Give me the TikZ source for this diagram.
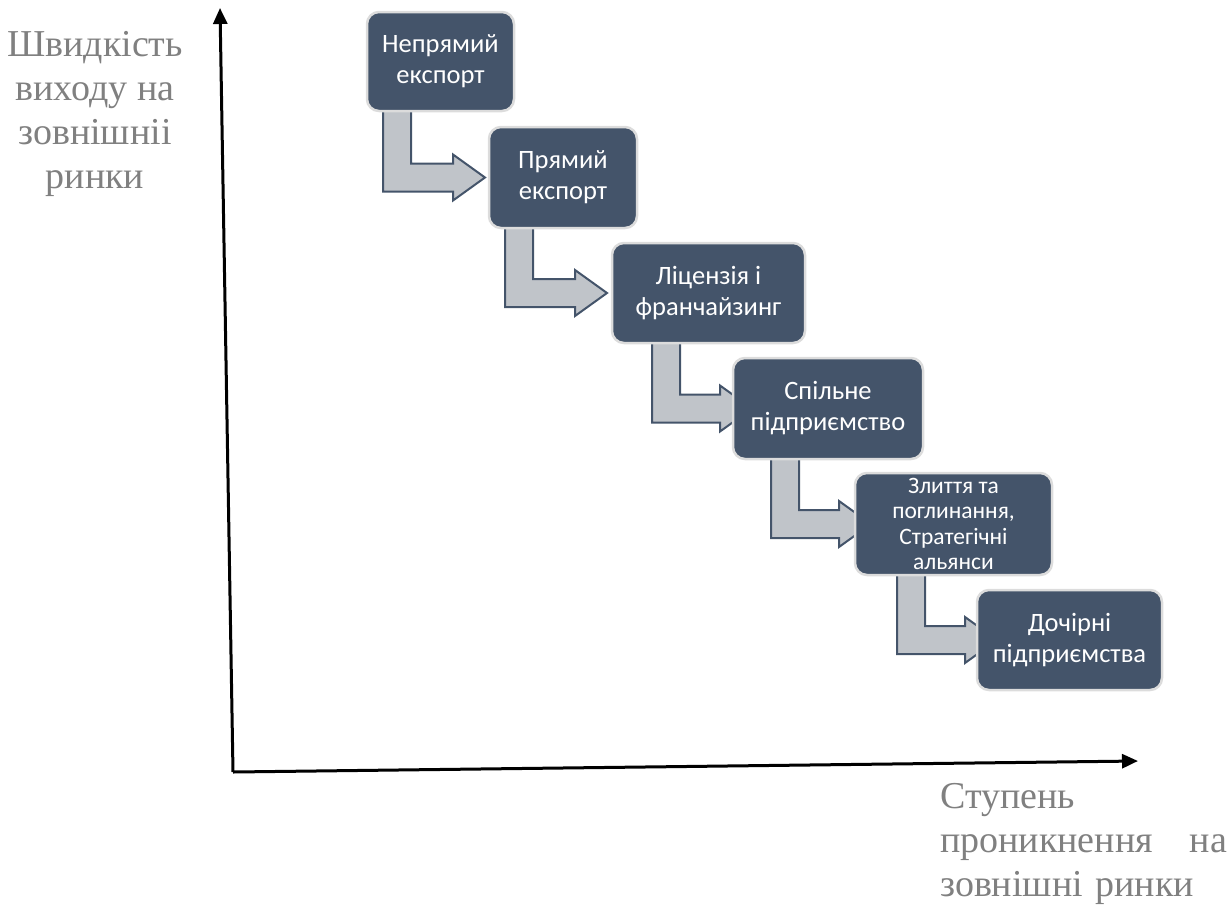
\documentclass[tikz,border=0pt]{standalone}
\usepackage{fontspec}
\setmainfont{Liberation Serif}
\newfontfamily\boxfont{Carlito}
\usetikzlibrary{arrows.meta,calc,backgrounds}
\definecolor{boxfill}{HTML}{44546A}
\definecolor{boxedge}{HTML}{DCDCDC}
\definecolor{arrowfill}{HTML}{C0C4C9}
\definecolor{labelgray}{HTML}{808080}
\tikzset{
  stage/.style={draw=boxedge, line width=2.5pt, fill=boxfill, rounded corners=12pt,
    text=white, font=\boxfont\fontsize{26.5}{31}\selectfont, align=center,
    inner sep=0pt, outer sep=0pt},
  flowarrow/.style={draw=boxfill, line width=2pt, fill=arrowfill, line join=miter},
  axisline/.style={line width=3pt, -{Triangle[length=16pt,width=14pt]}},
  axislabel/.style={text=labelgray, inner sep=0pt, font=\fontsize{38}{44}\selectfont}
}
\newcommand\bentarrow[4]{%
  \draw[flowarrow] let \p1=(#1.south west), \p2=(#2.west),
      \n1={\x1+#3}, \n2={\x2+#4} in
    (\n1,{\y1+2pt}) -- ({\n1+28pt},{\y1+2pt}) -- ({\n1+28pt},{\y2+14pt})
    -- ({\n2-32pt},{\y2+14pt}) -- ({\n2-32pt},{\y2+23pt}) -- (\n2,\y2)
    -- ({\n2-32pt},{\y2-23pt}) -- ({\n2-32pt},{\y2-14pt}) -- (\n1,{\y2-14pt}) -- cycle;}
\begin{document}
\begin{tikzpicture}[x=1pt,y=-1pt]
\useasboundingbox (0,0) rectangle (1232,906);

% axes
\coordinate (O) at (233,772);
\coordinate (ytop) at (220,8);
\coordinate (xend) at (1138,761);
\draw[axisline] (O) -- (ytop);
\draw[axisline] (O) -- (xend);

% stages
\node[stage, minimum width=147pt, minimum height=99pt] (b1) at (440.5,61.5) {Непрямий\\експорт};
\node[stage, minimum width=148pt, minimum height=101pt] (b2) at (563,177.5) {Прямий\\експорт};
\node[stage, minimum width=193pt, minimum height=100pt] (b3) at (708.5,293) {Ліцензія і\\франчайзинг};
\node[stage, minimum width=190pt, minimum height=101pt] (b4) at (828,408.5) {Спільне\\підприємство};
\node[stage, minimum width=197pt, minimum height=102pt, font=\boxfont\fontsize{23.5}{25.5}\selectfont] (b5) at (953.5,524) {Злиття та\\поглинання,\\Стратегічні\\альянси};
\node[stage, minimum width=185pt, minimum height=100pt] (b6) at (1069.5,640) {Дочірні\\підприємства};

\begin{pgfonlayer}{background}
\bentarrow{b1}{b2}{16pt}{-4pt}
\bentarrow{b2}{b3}{16pt}{-5pt}
\bentarrow{b3}{b4}{40pt}{19pt}
\bentarrow{b4}{b5}{38pt}{16pt}
\bentarrow{b5}{b6}{42pt}{20pt}
\end{pgfonlayer}

% axis labels
\node[axislabel, align=center, anchor=north] (ylab) at (95,31) {Швидкість\\виходу на\\зовнішніі\\ринки};
\node[axislabel, text width=287pt, align=left, anchor=north west] (xlab) at (940,783) {Ступень\\проникнення\hfill на\\зовнішні ринки};
\end{tikzpicture}
\end{document}
